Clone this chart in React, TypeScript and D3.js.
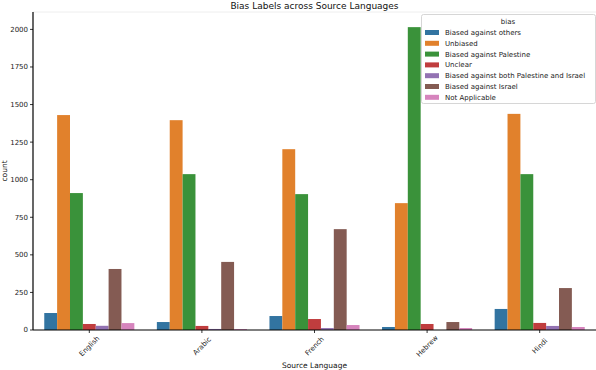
import React from "react";
import * as d3 from "d3";

const languages = ["English", "Arabic", "French", "Hebrew", "Hindi"];
const biasLabels = [
  "Biased against others",
  "Unbiased",
  "Biased against Palestine",
  "Unclear",
  "Biased against both Palestine and Israel",
  "Biased against Israel",
  "Not Applicable",
];
const colors = ["#3274a1", "#e1812c", "#3a923a", "#c03d3e", "#9372b2", "#845b53", "#d684bd"];
// counts per bias label, in languages order
const againstOthers = [113, 53, 93, 20, 140];
const unbiased = [1430, 1396, 1203, 844, 1438];
const againstPalestine = [911, 1037, 904, 2015, 1037];
const unclear = [40, 27, 73, 40, 47];
const againstBoth = [28, 7, 13, 0, 27];
const againstIsrael = [406, 453, 671, 53, 279];
const notApplicable = [46, 6, 33, 13, 20];
const series = [againstOthers, unbiased, againstPalestine, unclear, againstBoth, againstIsrael, notApplicable];
const yTicks = [0, 250, 500, 750, 1000, 1250, 1500, 1750, 2000];

const W = 596, H = 370;
const left = 33, right = 596, top = 12, bottom = 330;
const font = "DejaVu Sans, sans-serif";

export default function App() {
  const ymax = d3.max(series.flat())! * 1.05;
  const x = d3.scaleBand().domain(languages).range([left, right]).paddingInner(0).paddingOuter(0);
  const inner = d3.scaleBand().domain(biasLabels).range([0, x.bandwidth() * 0.8]);
  const y = d3.scaleLinear().domain([0, ymax]).range([bottom, top]);
  const off = x.bandwidth() * 0.1;

  return (
    <svg width={W} height={H} style={{ position: "absolute", left: 0, top: 0, background: "#fff" }} fontFamily={font}>
      <line x1={left} x2={right} y1={top} y2={top} stroke="#eeeeee" strokeWidth={1} />
      {series.map((vals, si) =>
        vals.map((v, li) => (
          <rect
            key={`${si}-${li}`}
            x={x(languages[li])! + off + inner(biasLabels[si])!}
            y={y(v)}
            width={inner.bandwidth()}
            height={bottom - y(v)}
            fill={colors[si]}
          />
        ))
      )}
      {/* y axis */}
      <line x1={left} x2={left} y1={top} y2={bottom} stroke="#000" strokeWidth={1.2} />
      {yTicks.map((t) => (
        <g key={t}>
          <line x1={left - 3} x2={left} y1={y(t)} y2={y(t)} stroke="#000" strokeWidth={0.8} />
          <text x={left - 5} y={y(t)} dy="0.35em" textAnchor="end" fontSize={7} fill="#222">
            {t}
          </text>
        </g>
      ))}
      {/* x axis */}
      <line x1={left} x2={right} y1={bottom} y2={bottom} stroke="#000" strokeWidth={1.2} />
      {languages.map((l) => {
        const cx = x(l)! + x.bandwidth() / 2;
        return (
          <g key={l}>
            <line x1={cx} x2={cx} y1={bottom} y2={bottom + 3} stroke="#000" strokeWidth={0.8} />
            <text
              x={cx}
              y={346}
              dy="0.35em"
              textAnchor="middle"
              fontSize={7}
              fill="#222"
              transform={`rotate(-45 ${cx} 346)`}
            >
              {l}
            </text>
          </g>
        );
      })}
      <text x={(left + right) / 2} y={368} textAnchor="middle" fontSize={7.5} fill="#111">
        Source Language
      </text>
      <text
        x={0}
        y={0}
        textAnchor="middle"
        fontSize={7.5}
        fill="#111"
        transform={`translate(7 ${(top + bottom) / 2}) rotate(-90)`}
      >
        count
      </text>
      <text x={(left + right) / 2} y={9} textAnchor="middle" fontSize={9} fill="#111">
        Bias Labels across Source Languages
      </text>
      {/* legend */}
      <g>
        <rect x={421.5} y={14.5} width={174} height={89} rx={2} fill="#fff" fillOpacity={0.85} stroke="#cccccc" strokeWidth={0.8} />
        <text x={508} y={21.5} dy="0.35em" textAnchor="middle" fontSize={7} fill="#222">
          bias
        </text>
        {biasLabels.map((b, i) => (
          <g key={b}>
            <rect x={425} y={30 + i * 10.8} width={14} height={5} fill={colors[i]} />
            <text x={445} y={32.5 + i * 10.8} dy="0.35em" fontSize={7} fill="#222">
              {b}
            </text>
          </g>
        ))}
      </g>
    </svg>
  );
}
